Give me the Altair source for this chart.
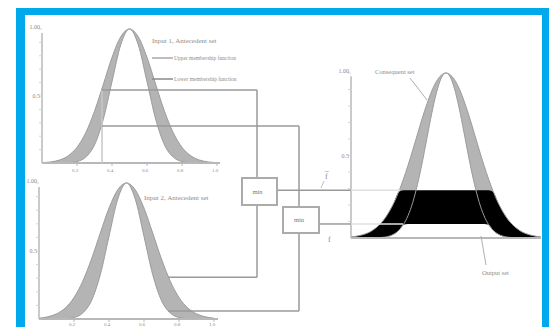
import altair as alt
import pandas as pd

# ---------------- data ----------------
# antecedent universe (both inputs), membership grades of upper / lower MFs
x_ante = [0.0, 0.05, 0.1, 0.15, 0.2, 0.25, 0.3, 0.35, 0.4, 0.45, 0.5,
          0.55, 0.6, 0.65, 0.7, 0.75, 0.8, 0.85, 0.9, 0.95, 1.0]
in1_upper = [0.003, 0.008, 0.022, 0.054, 0.117, 0.226, 0.386, 0.585, 0.788, 0.942, 1.0,
             0.942, 0.788, 0.585, 0.386, 0.226, 0.117, 0.054, 0.022, 0.008, 0.003]
in1_lower = [0.0, 0.0, 0.0, 0.002, 0.011, 0.044, 0.135, 0.325, 0.607, 0.882, 1.0,
             0.882, 0.607, 0.325, 0.135, 0.044, 0.011, 0.002, 0.0, 0.0, 0.0]
in2_upper = [0.006, 0.016, 0.038, 0.081, 0.158, 0.278, 0.441, 0.631, 0.815, 0.950, 1.0,
             0.950, 0.815, 0.631, 0.441, 0.278, 0.158, 0.081, 0.038, 0.016, 0.006]
in2_lower = [0.0, 0.0, 0.0, 0.002, 0.011, 0.044, 0.135, 0.325, 0.607, 0.882, 1.0,
             0.882, 0.607, 0.325, 0.135, 0.044, 0.011, 0.002, 0.0, 0.0, 0.0]

# consequent universe and its upper / lower MFs
x_cons = [0.0, 0.025, 0.05, 0.075, 0.1, 0.125, 0.15, 0.175, 0.2, 0.225, 0.25,
          0.275, 0.3, 0.325, 0.35, 0.375, 0.4, 0.425, 0.45, 0.475, 0.5,
          0.525, 0.55, 0.575, 0.6, 0.625, 0.65, 0.675, 0.7, 0.725, 0.75,
          0.775, 0.8, 0.825, 0.85, 0.875, 0.9, 0.925, 0.95, 0.975, 1.0]
cons_upper = [0.006, 0.010, 0.016, 0.025, 0.037, 0.056, 0.081, 0.114, 0.158, 0.212, 0.277,
              0.354, 0.440, 0.533, 0.630, 0.726, 0.814, 0.891, 0.950, 0.987, 1.0,
              0.987, 0.950, 0.891, 0.814, 0.726, 0.630, 0.533, 0.440, 0.354, 0.277,
              0.212, 0.158, 0.114, 0.081, 0.056, 0.037, 0.025, 0.016, 0.010, 0.006]
cons_lower = [0.0, 0.0, 0.0, 0.0, 0.0, 0.001, 0.002, 0.005, 0.011, 0.023, 0.044,
              0.080, 0.135, 0.216, 0.325, 0.458, 0.607, 0.755, 0.882, 0.969, 1.0,
              0.969, 0.882, 0.755, 0.607, 0.458, 0.325, 0.216, 0.135, 0.080, 0.044,
              0.023, 0.011, 0.005, 0.002, 0.001, 0.0, 0.0, 0.0, 0.0, 0.0]

# crisp inputs and firing grades
input1_value = 0.343
input2_value = 0.737
in1_fire_upper, in1_fire_lower = 0.545, 0.276
in2_fire_upper, in2_fire_lower = 0.307, 0.058
firing_upper, firing_lower = 0.29, 0.085

ante_ticks = [0.2, 0.4, 0.6, 0.8, 1.0]
ante_tick_labels = ["0.2", "0.4", "0.6", "0.8", "1.0"]
y_minor = [0.1, 0.2, 0.3, 0.4, 0.5, 0.6, 0.7, 0.8, 0.9, 1.0]
y_labels = ["1.00", "0.5"]
y_label_vals = [1.0, 0.5]

texts = ["Input 1, Antecedent set", "Upper membership function", "Lower membership function",
         "Input 2, Antecedent set", "min", "min", "Consequent set", "Output set", "f\u0305", "f"]

# ---------------- layout (page pixels) ----------------
BLUE = "#00a9ec"
GRAY_BAND = "#b4b4b4"
EDGE = "#9c9c9c"
LINE = "#9a9a9a"
TXT = "#8c8c8c"
FONT = "Liberation Serif"

P_TOP = dict(x0=42, y0=163, sx=175, sy=134)
P_BOT = dict(x0=39, y0=319, sx=175, sy=136)
P_OUT = dict(x0=351, y0=238, sx=190, sy=165)


def px(p, v):
    return p["x0"] + v * p["sx"]


def py(p, m):
    return p["y0"] - m * p["sy"]


XS = alt.Scale(domain=[8, 549], nice=False, zero=False)
YS = alt.Scale(domain=[8, 327], nice=False, zero=False, reverse=True)


def X(f):
    return alt.X(f, type="quantitative", scale=XS, axis=None)


def Y(f):
    return alt.Y(f, type="quantitative", scale=YS, axis=None)


# ---------- bands ----------
band_rows = []
for name, p, up, lo in [("in1", P_TOP, in1_upper, in1_lower),
                        ("in2", P_BOT, in2_upper, in2_lower)]:
    for xv, u, l in zip(x_ante, up, lo):
        band_rows.append(dict(s=name, x=px(p, xv), yu=py(p, u), yl=py(p, l)))
for xv, u, l in zip(x_cons, cons_upper, cons_lower):
    band_rows.append(dict(s="cons", x=px(P_OUT, xv), yu=py(P_OUT, u), yl=py(P_OUT, l)))
band_df = pd.DataFrame(band_rows)

bands = alt.Chart(band_df).mark_area(interpolate="monotone", color=GRAY_BAND).encode(
    x=X("x"), y=Y("yu"), y2="yl", detail="s:N")

edge_rows = []
for r in band_rows:
    edge_rows.append(dict(s=r["s"] + "u", x=r["x"], y=r["yu"]))
    edge_rows.append(dict(s=r["s"] + "l", x=r["x"], y=r["yl"]))
edges = alt.Chart(pd.DataFrame(edge_rows)).mark_line(
    interpolate="monotone", color=EDGE, strokeWidth=1).encode(
    x=X("x"), y=Y("y"), detail="s:N")

# ---------- output set (black) ----------
out_rows = []
for xv, u, l in zip(x_cons, cons_upper, cons_lower):
    out_rows.append(dict(x=px(P_OUT, xv), yu=py(P_OUT, min(u, firing_upper)),
                         yl=py(P_OUT, min(l, firing_lower))))
out_area = alt.Chart(pd.DataFrame(out_rows)).mark_area(
    interpolate="monotone", color="#000000").encode(x=X("x"), y=Y("yu"), y2="yl")

# ---------- rules: axes, ticks, connectors, borders ----------
rules = []


def rule(x1, y1, x2, y2, c=LINE, w=1.5):
    rules.append(dict(x=x1, y=y1, x2=x2, y2=y2, c=c, w=w))


AX = "#b8b8b8"
for p, xend in [(P_TOP, 220), (P_BOT, 218)]:
    rule(p["x0"], p["y0"], p["x0"], py(p, 0.97), AX, 1.5)
    rule(p["x0"], p["y0"], xend, p["y0"], AX, 2)
    for t in ante_ticks:
        rule(px(p, t), p["y0"], px(p, t), p["y0"] + 3, AX, 1)
    for m in y_minor:
        rule(p["x0"] - 3, py(p, m), p["x0"], py(p, m), "#d4d4d4", 1)
rule(P_OUT["x0"], P_OUT["y0"], P_OUT["x0"], py(P_OUT, 0.98), AX, 1.5)
rule(P_OUT["x0"], P_OUT["y0"], 541, P_OUT["y0"], AX, 2)
for m in y_minor:
    rule(P_OUT["x0"] - 3, py(P_OUT, m), P_OUT["x0"], py(P_OUT, m), "#d4d4d4", 1)

# connectors
xi1 = px(P_TOP, input1_value)
yu1, yl1 = py(P_TOP, in1_fire_upper), py(P_TOP, in1_fire_lower)
xi2 = px(P_BOT, input2_value)
yu2, yl2 = py(P_BOT, in2_fire_upper), py(P_BOT, in2_fire_lower)
yfu, yfl = py(P_OUT, firing_upper), py(P_OUT, firing_lower)
B1 = dict(x=242, x2=277, y=178, y2=205)
B2 = dict(x=283, x2=319, y=207, y2=233)
V1, V2 = 257, 299

rule(xi1, yu1, xi1, P_TOP["y0"], "#c8c8c8", 1.5)
rule(xi1, yu1, V1, yu1)
rule(xi1, yl1, V2, yl1)
rule(V1, yu1, V1, B1["y"])
rule(V1, B1["y2"], V1, yu2)
rule(xi2, yu2, V1, yu2)
rule(V2, yl1, V2, B2["y"])
rule(V2, B2["y2"], V2, yl2)
rule(xi2, yl2, V2, yl2)
rule(B1["x2"], yfu, P_OUT["x0"], yfu)
rule(B2["x2"], yfl, P_OUT["x0"], yfl)
rule(P_OUT["x0"], yfu, 400, yfu, "#e0e0e0", 1.5)
rule(P_OUT["x0"], yfl, 403, yfl, "#e0e0e0", 1.5)
# leaders
rule(152, 58, 173, 58, "#a8a8a8", 1.5)
rule(152, 79, 173, 79, "#8a8a8a", 1.5)
rule(410, 78, 427, 100, "#b0b0b0", 1)
rule(481, 236, 486, 265, "#b0b0b0", 1)
rule(324, 181, 321, 188, "#c0c0c0", 1)

rules_chart = alt.Chart(pd.DataFrame(rules)).mark_rule().encode(
    x=X("x"), y=Y("y"), x2="x2", y2="y2",
    color=alt.Color("c:N", scale=None),
    strokeWidth=alt.StrokeWidth("w:Q", scale=None))

# ---------- boxes and border ----------
boxes = alt.Chart(pd.DataFrame([B1, B2])).mark_rect(
    fill="white", stroke="#ababab", strokeWidth=2).encode(
    x=X("x"), x2="x2", y=Y("y"), y2="y2")

border = alt.Chart(pd.DataFrame([
    dict(x=16, x2=25, y=8, y2=327),
    dict(x=16, x2=549, y=8, y2=15),
    dict(x=542, x2=549, y=8, y2=327),
])).mark_rect(color=BLUE).encode(x=X("x"), x2="x2", y=Y("y"), y2="y2")

# ---------- texts ----------
trows = []


def txt(t, x, y, fs, al="left", c=TXT):
    trows.append(dict(t=t, x=x, y=y, fs=fs, al=al, c=c))


txt(texts[0], 152, 41, 7)
txt(texts[1], 174, 58, 5.5)
txt(texts[2], 174, 79, 5.5)
txt(texts[3], 144, 198, 7)
txt(texts[4], (B1["x"] + B1["x2"]) / 2 - 7, (B1["y"] + B1["y2"]) / 2, 6.5, "left", "#777777")
txt(texts[5], (B2["x"] + B2["x2"]) / 2 - 7, (B2["y"] + B2["y2"]) / 2, 6.5, "left", "#777777")
txt(texts[6], 375, 72, 6.5)
txt(texts[7], 482, 273, 6.5)
txt(texts[8], 325, 177, 8)
txt(texts[9], 328, 240, 8)
for p, dy in [(P_TOP, 7), (P_BOT, 4.5)]:
    for t, lab in zip(ante_ticks, ante_tick_labels):
        txt(lab, px(p, t) - 5, p["y0"] + dy, 5)
for p in [P_TOP, P_BOT, P_OUT]:
    for v, lab in zip(y_label_vals, y_labels):
        txt(lab, p["x0"] - 2, py(p, v) + (-2 if v == 1.0 else 0), 6, "right")

tdf = pd.DataFrame(trows)
text_layers = []
for al in ["left", "right"]:
    sub = tdf[tdf["al"] == al]
    text_layers.append(alt.Chart(sub).mark_text(align=al, baseline="middle", font=FONT).encode(
        x=X("x"), y=Y("y"), text="t:N",
        size=alt.Size("fs:Q", scale=None),
        color=alt.Color("c:N", scale=None)))

chart = alt.layer(border, bands, out_area, edges, rules_chart, boxes, *text_layers).properties(
    width=541, height=319, padding=0,
    autosize=alt.AutoSizeParams(type="none"),
).configure_view(stroke=None)

chart.save("out.html", embed_options={"renderer": "svg", "actions": False})
